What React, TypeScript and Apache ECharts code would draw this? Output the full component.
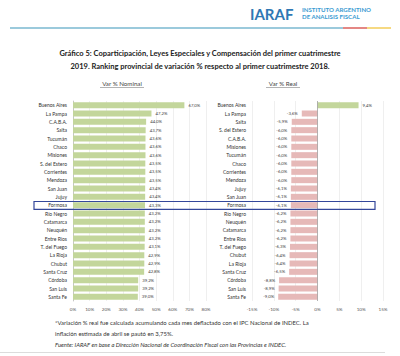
import React, { useEffect, useRef } from "react";
import * as echarts from "echarts";

const categoriesNominal = [
  "Buenos Aires", "La Pampa", "C.A.B.A.", "Salta", "Tucumán", "Chaco", "Misiones",
  "S. del Estero", "Corrientes", "Mendoza", "San Juan", "Jujuy", "Formosa", "Río Negro",
  "Catamarca", "Neuquén", "Entre Ríos", "T. del Fuego", "La Rioja", "Chubut",
  "Santa Cruz", "Córdoba", "San Luis", "Santa Fe",
];
const valuesNominal = [
  67.0, 47.2, 44.0, 43.7, 43.6, 43.6, 43.6, 43.5, 43.5, 43.5, 43.4, 43.4, 43.3, 43.2,
  43.2, 43.2, 43.2, 43.1, 42.9, 42.9, 42.8, 39.2, 39.2, 39.0,
];
const categoriesReal = [
  "Buenos Aires", "La Pampa", "Salta", "S. del Estero", "C.A.B.A.", "Misiones", "Tucumán",
  "Chaco", "Corrientes", "Mendoza", "Jujuy", "San Juan", "Formosa", "Río Negro",
  "Neuquén", "Catamarca", "Entre Ríos", "T. del Fuego", "Chubut", "La Rioja",
  "Santa Cruz", "Córdoba", "San Luis", "Santa Fe",
];
const valuesReal = [
  9.4, -3.6, -5.9, -6.0, -6.0, -6.0, -6.0, -6.0, -6.0, -6.0, -6.1, -6.1, -6.1, -6.2,
  -6.2, -6.2, -6.2, -6.3, -6.4, -6.4, -6.5, -8.8, -8.9, -9.0,
];
const highlighted = "Formosa";

const FONT = "Lato, 'Open Sans', sans-serif";
const fmt = (v: number) => v.toFixed(1).replace(".", ",") + "%";

export default function App() {
  const ref = useRef<HTMLDivElement>(null);
  useEffect(() => {
    if (!ref.current) return;
    const chart = echarts.init(ref.current, null, { renderer: "svg" });
    const top = 101;
    const height = 200;
    const rowH = height / categoriesNominal.length;
    const hiIdx = categoriesNominal.indexOf(highlighted);
    const hiY = top + rowH * hiIdx;

    const yCommon = {
      type: "category" as const,
      inverse: true,
      axisTick: { show: false },
      axisLabel: { fontSize: 5, color: "#333", margin: 6, fontFamily: FONT },
    };
    const xLabel = {
      fontSize: 4.6,
      color: "#555",
      fontFamily: FONT,
      formatter: "{value}%",
      margin: 5,
    };

    chart.setOption({
      animation: false,
      backgroundColor: "#ffffff",
      grid: [
        { left: 73, width: 133, top, height },
        { left: 252, width: 131, top, height },
      ],
      xAxis: [
        {
          gridIndex: 0, type: "value", min: 0, max: 80, interval: 10,
          axisLabel: xLabel,
          axisLine: { show: false }, axisTick: { show: false },
          splitLine: { show: true, lineStyle: { color: "#e4e4e4", width: 0.6 } },
        },
        {
          gridIndex: 1, type: "value", min: -15, max: 15, interval: 5,
          axisLabel: xLabel,
          axisLine: { show: false }, axisTick: { show: false },
          splitLine: { show: true, lineStyle: { color: "#e4e4e4", width: 0.6 } },
        },
      ],
      yAxis: [
        {
          ...yCommon, gridIndex: 0, data: categoriesNominal,
          axisLine: { show: true, lineStyle: { color: "#aaa", width: 0.6 } },
        },
        {
          ...yCommon, gridIndex: 1, data: categoriesReal,
          axisLine: { show: false },
        },
      ],
      series: [
        {
          type: "bar", xAxisIndex: 0, yAxisIndex: 0,
          data: valuesNominal,
          barCategoryGap: "28%",
          itemStyle: { color: "#c3d69b" },
          label: {
            show: true, position: "right", distance: 4,
            fontSize: 4.3, color: "#444", fontFamily: FONT,
            formatter: (p: any) => fmt(p.value),
          },
        },
        {
          type: "bar", xAxisIndex: 1, yAxisIndex: 1,
          data: valuesReal.map((v) => ({
            value: v,
            itemStyle: { color: v >= 0 ? "#c3d69b" : "#e6b9b8" },
            label: { position: v >= 0 ? "right" : "left" },
          })),
          barCategoryGap: "28%",
          label: {
            show: true, distance: 4,
            fontSize: 4.3, color: "#444", fontFamily: FONT,
            formatter: (p: any) => fmt(p.value),
          },
          markLine: {
            silent: true, symbol: "none", label: { show: false },
            lineStyle: { color: "#999", width: 0.7, type: "solid" },
            data: [{ xAxis: 0 }],
          },
        },
      ],
      graphic: [
        // logo
        { type: "text", left: 250, top: 6, style: { text: "IARAF", fontSize: 15, fontWeight: "bold", fill: "#2f78b4", fontFamily: FONT } },
        { type: "text", left: 302, top: 6, style: { text: "INSTITUTO ARGENTINO", fontSize: 6.1, fontWeight: "bold", fill: "#3a9bd2", fontFamily: FONT } },
        { type: "text", left: 302, top: 13, style: { text: "DE ANALISIS FISCAL", fontSize: 6.1, fontWeight: "bold", fill: "#3a9bd2", fontFamily: FONT } },
        { type: "line", shape: { x1: 10, y1: 28, x2: 343, y2: 28 }, style: { stroke: "#7ab8d0", lineWidth: 1.4 } },
        { type: "line", shape: { x1: 343, y1: 28, x2: 367, y2: 28 }, style: { stroke: "#d9534f", lineWidth: 1.4 } },
        { type: "line", shape: { x1: 367, y1: 28, x2: 391, y2: 28 }, style: { stroke: "#f2c94c", lineWidth: 1.4 } },
        // title
        { type: "text", x: 200, y: 53, style: { text: "Gráfico 5: Coparticipación, Leyes Especiales y Compensación del primer cuatrimestre", fontSize: 7.5, fontWeight: "bold", fill: "#222", fontFamily: FONT, align: "center", verticalAlign: "middle" } },
        { type: "text", x: 200, y: 66, style: { text: "2019. Ranking provincial de variación % respecto al primer cuatrimestre 2018.", fontSize: 7.5, fontWeight: "bold", fill: "#222", fontFamily: FONT, align: "center", verticalAlign: "middle" } },
        // subtitles
        { type: "text", x: 122, y: 83, style: { text: "Var % Nominal", fontSize: 6.2, fill: "#444", fontFamily: FONT, align: "center", verticalAlign: "middle" } },
        { type: "line", shape: { x1: 100, y1: 87.5, x2: 144, y2: 87.5 }, style: { stroke: "#666", lineWidth: 0.5 } },
        { type: "text", x: 283, y: 83, style: { text: "Var % Real", fontSize: 6.2, fill: "#444", fontFamily: FONT, align: "center", verticalAlign: "middle" } },
        { type: "line", shape: { x1: 266, y1: 87.5, x2: 300, y2: 87.5 }, style: { stroke: "#666", lineWidth: 0.5 } },
        // highlight box
        { type: "rect", shape: { x: 34, y: hiY + 0.5, width: 341, height: rowH - 0.5 }, style: { fill: "none", stroke: "#34479a", lineWidth: 1.2 }, z: 100 },
        // footnote
        { type: "text", left: 55, top: 319, style: { text: "*Variación % real fue calculada acumulando cada mes deflactado con el IPC Nacional de INDEC. La", fontSize: 5.9, fill: "#333", fontFamily: FONT } },
        { type: "text", left: 55, top: 330, style: { text: "inflación estimada de abril se pautó en 3,75%.", fontSize: 5.9, fill: "#333", fontFamily: FONT } },
        { type: "text", left: 55, top: 341, style: { text: "Fuente: IARAF en base a Dirección Nacional de Coordinación Fiscal con las Provincias e INDEC.", fontSize: 5.9, fill: "#333", fontStyle: "italic", fontFamily: FONT } },
        { type: "line", shape: { x1: 0, y1: 352.5, x2: 385, y2: 352.5 }, style: { stroke: "#dcdcdc", lineWidth: 1 } },
      ],
    });
    return () => chart.dispose();
  }, []);
  return (
    <div
      ref={ref}
      style={{ position: "fixed", left: 0, top: 0, width: 400, height: 356, background: "#fff" }}
    />
  );
}
